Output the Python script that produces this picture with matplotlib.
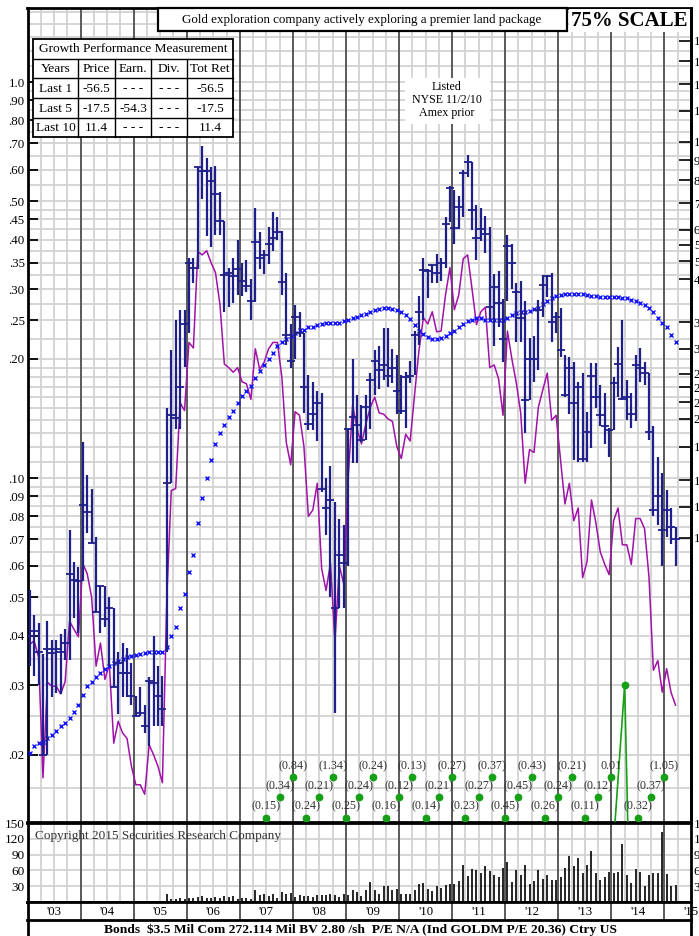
import numpy as np
import matplotlib
matplotlib.use('Agg')
import matplotlib.pyplot as plt
from matplotlib.patches import Rectangle
import matplotlib.transforms as mtransforms
from matplotlib.ticker import FixedLocator, NullLocator

plt.rcParams['font.family'] = ['Liberation Serif', 'DejaVu Serif']

# ---------------- data ----------------
START_YEAR = 2003  # first monthly bar = Jan 2003

high = [0.052, 0.045, 0.043, 0.036, 0.0435, 0.039, 0.039, 0.0403, 0.0415, 0.0737, 0.0612, 0.0597,
        0.123, 0.102, 0.094, 0.071, 0.0535, 0.0535, 0.050, 0.047, 0.0363, 0.0383, 0.0372, 0.0342,
        0.0282, 0.0297, 0.0267, 0.0315, 0.040, 0.0336, 0.0316, 0.15, 0.21, 0.25, 0.266, 0.266,
        0.36, 0.36, 0.61, 0.69, 0.643, 0.61, 0.614, 0.527, 0.446, 0.34, 0.36, 0.40,
        0.35, 0.355, 0.318, 0.48, 0.418, 0.377, 0.43, 0.47, 0.455, 0.42, 0.33, 0.245,
        0.273, 0.263, 0.232, 0.182, 0.175, 0.166, 0.164, 0.10, 0.107, 0.087, 0.079, 0.076,
        0.133, 0.20, 0.162, 0.153, 0.162, 0.184, 0.21, 0.215, 0.239, 0.239, 0.212, 0.205,
        0.182, 0.185, 0.198, 0.235, 0.288, 0.36, 0.337, 0.345, 0.368, 0.36, 0.455, 0.546,
        0.533, 0.515, 0.60, 0.655, 0.628, 0.49, 0.48, 0.46, 0.43, 0.328, 0.333, 0.283,
        0.41, 0.39, 0.31, 0.315, 0.28, 0.226, 0.228, 0.282, 0.325, 0.325, 0.33, 0.262,
        0.269, 0.205, 0.202, 0.196, 0.175, 0.184, 0.147, 0.195, 0.195, 0.172, 0.164, 0.134,
        0.18, 0.214, 0.25, 0.177, 0.164, 0.205, 0.213, 0.196, 0.184, 0.135, 0.113, 0.103,
        0.093, 0.084, 0.075]

low = [0.0335, 0.0316, 0.030, 0.020, 0.020, 0.028, 0.0286, 0.0285, 0.0347, 0.0347, 0.0443, 0.0406,
       0.055, 0.0727, 0.0685, 0.0458, 0.0406, 0.042, 0.0335, 0.0297, 0.0254, 0.028, 0.028, 0.0267,
       0.025, 0.025, 0.0227, 0.021, 0.0236, 0.0236, 0.0236, 0.0363, 0.097, 0.133, 0.133, 0.191,
       0.232, 0.31, 0.337, 0.506, 0.408, 0.383, 0.41, 0.41, 0.262, 0.27, 0.277, 0.29,
       0.288, 0.295, 0.25, 0.278, 0.337, 0.328, 0.347, 0.374, 0.40, 0.29, 0.217, 0.19,
       0.20, 0.227, 0.146, 0.132, 0.132, 0.124, 0.092, 0.072, 0.05, 0.0255, 0.047, 0.047,
       0.06, 0.109, 0.109, 0.123, 0.125, 0.133, 0.162, 0.168, 0.177, 0.17, 0.174, 0.145,
       0.145, 0.134, 0.174, 0.182, 0.217, 0.25, 0.285, 0.31, 0.31, 0.314, 0.34, 0.443,
       0.39, 0.426, 0.455, 0.575, 0.423, 0.355, 0.396, 0.37, 0.25, 0.216, 0.24, 0.196,
       0.28, 0.30, 0.22, 0.22, 0.13, 0.157, 0.175, 0.187, 0.255, 0.287, 0.22, 0.232,
       0.202, 0.16, 0.145, 0.111, 0.11, 0.11, 0.11, 0.119, 0.15, 0.135, 0.122, 0.113,
       0.132, 0.16, 0.157, 0.14, 0.134, 0.139, 0.175, 0.172, 0.125, 0.08, 0.076, 0.06,
       0.071, 0.068, 0.06]

close = [0.040, 0.041, 0.0363, 0.020, 0.037, 0.0362, 0.037, 0.0363, 0.0383, 0.0573, 0.0553, 0.055,
         0.0857, 0.082, 0.0687, 0.0458, 0.0535, 0.044, 0.047, 0.0297, 0.0342, 0.0322, 0.0322, 0.0282,
         0.025, 0.0255, 0.0236, 0.0308, 0.0303, 0.0282, 0.0261, 0.097, 0.144, 0.142, 0.17, 0.245,
         0.35, 0.34, 0.61, 0.596, 0.596, 0.562, 0.52, 0.446, 0.325, 0.33, 0.323, 0.337,
         0.314, 0.305, 0.28, 0.395, 0.36, 0.366, 0.39, 0.404, 0.418, 0.313, 0.23, 0.198,
         0.255, 0.232, 0.17, 0.137, 0.145, 0.155, 0.094, 0.084, 0.088, 0.047, 0.064, 0.061,
         0.133, 0.143, 0.136, 0.125, 0.151, 0.177, 0.198, 0.187, 0.193, 0.181, 0.19, 0.166,
         0.148, 0.18, 0.181, 0.23, 0.263, 0.335, 0.333, 0.345, 0.33, 0.35, 0.438, 0.54,
         0.428, 0.484, 0.59, 0.628, 0.474, 0.404, 0.426, 0.414, 0.27, 0.304, 0.277, 0.224,
         0.385, 0.35, 0.295, 0.254, 0.157, 0.20, 0.20, 0.266, 0.307, 0.324, 0.248, 0.255,
         0.21, 0.162, 0.19, 0.155, 0.17, 0.112, 0.131, 0.181, 0.16, 0.144, 0.135, 0.132,
         0.174, 0.194, 0.158, 0.16, 0.145, 0.193, 0.19, 0.184, 0.131, 0.083, 0.09, 0.074,
         0.083, 0.075, 0.07]

rel_strength = [0.038, 0.0388, 0.0353, 0.0175, 0.0305, 0.0298, 0.0298, 0.0285, 0.0306, 0.0435, 0.0415, 0.0397,
                0.0608, 0.0573, 0.050, 0.0335, 0.0383, 0.031, 0.0338, 0.0214, 0.0243, 0.0227, 0.022, 0.0187,
                0.0168, 0.0168, 0.0159, 0.0212, 0.020, 0.0187, 0.017, 0.05, 0.093, 0.094, 0.155, 0.148,
                0.22, 0.213, 0.373, 0.366, 0.375, 0.35, 0.33, 0.275, 0.194, 0.19, 0.185, 0.19,
                0.175, 0.173, 0.158, 0.212, 0.188, 0.196, 0.212, 0.22, 0.22, 0.18, 0.123, 0.108,
                0.147, 0.144, 0.12, 0.08, 0.083, 0.097, 0.059, 0.052, 0.061, 0.0385, 0.06, 0.054,
                0.10, 0.153, 0.133, 0.122, 0.137, 0.151, 0.16, 0.146, 0.145, 0.141, 0.139, 0.12,
                0.112, 0.129, 0.124, 0.162, 0.21, 0.254, 0.245, 0.263, 0.234, 0.235, 0.29, 0.34,
                0.266, 0.29, 0.358, 0.366, 0.30, 0.244, 0.263, 0.27, 0.19, 0.193, 0.178, 0.144,
                0.235, 0.20, 0.174, 0.146, 0.097, 0.118, 0.116, 0.151, 0.167, 0.184, 0.14, 0.144,
                0.111, 0.086, 0.097, 0.078, 0.084, 0.056, 0.0615, 0.088, 0.077, 0.065, 0.0605, 0.057,
                0.078, 0.084, 0.0678, 0.0678, 0.0605, 0.079, 0.079, 0.0745, 0.0563, 0.0327, 0.0346, 0.0288,
                0.033, 0.0287, 0.0267]

moving_avg = [0.0202, 0.021, 0.0214, 0.0216, 0.0221, 0.0225, 0.023, 0.0236, 0.024, 0.0248, 0.0257, 0.0267,
              0.0283, 0.0298, 0.0306, 0.0315, 0.0322, 0.033, 0.0336, 0.0342, 0.0345, 0.035, 0.0353, 0.0356,
              0.0358, 0.036, 0.0362, 0.0363, 0.0363, 0.0363, 0.0363, 0.0375, 0.040, 0.042, 0.047, 0.051,
              0.058, 0.064, 0.077, 0.089, 0.10, 0.111, 0.122, 0.13, 0.136, 0.143, 0.148, 0.155,
              0.161, 0.166, 0.171, 0.179, 0.186, 0.193, 0.20, 0.207, 0.215, 0.22, 0.224, 0.228,
              0.232, 0.236, 0.237, 0.24, 0.241, 0.243, 0.245, 0.246, 0.247, 0.247, 0.247, 0.249,
              0.251, 0.253, 0.255, 0.258, 0.26, 0.262, 0.265, 0.267, 0.268, 0.268, 0.267, 0.265,
              0.262, 0.258, 0.252, 0.243, 0.235, 0.231, 0.227, 0.225, 0.225, 0.226, 0.228, 0.232,
              0.235, 0.24, 0.245, 0.249, 0.251, 0.253, 0.253, 0.251, 0.25, 0.25, 0.25, 0.251,
              0.254, 0.258, 0.261, 0.262, 0.262, 0.264, 0.267, 0.269, 0.275, 0.28, 0.285, 0.288,
              0.29, 0.292, 0.292, 0.292, 0.292, 0.292, 0.29, 0.288, 0.288, 0.287, 0.287, 0.287,
              0.287, 0.287, 0.285, 0.285, 0.282, 0.28, 0.277, 0.273, 0.268, 0.262, 0.254, 0.246,
              0.24, 0.23, 0.22]

volume = [0.6, 0.5, 0.7, 0.5, 0.6, 0.8, 0.5, 0.6, 0.7, 0.9, 0.8, 0.7,
          1.0, 0.9, 0.8, 0.7, 0.6, 0.8, 0.7, 0.6, 0.5, 0.7, 0.6, 0.5,
          0.6, 0.7, 0.5, 0.8, 0.9, 0.7, 0.8, 14.6, 6.3, 6.3, 7.6, 6.3,
          8.3, 7.6, 9.5, 10.8, 8.3, 7.0, 9.5, 7.0, 12.0, 9.5, 10.8, 6.3,
          7.6, 8.3, 6.3, 22.0, 12.7, 14.6, 10.8, 14.6, 8.3, 19.0, 14.6, 17.0,
          9.5, 14.0, 10.8, 12.0, 9.5, 12.7, 14.0, 12.7, 15.9, 12.7, 9.5, 14.6,
          12.7, 23.5, 19.0, 10.8, 22.0, 38.0, 22.0, 14.6, 30.0, 30.0, 22.0, 25.0,
          14.6, 15.9, 14.6, 22.0, 33.7, 36.8, 25.0, 21.0, 30.5, 26.7, 33.0, 33.7,
          35.0, 40.0, 70.0, 49.0, 62.0, 60.0, 56.0, 69.0, 59.0, 51.0, 47.6, 65.0,
          75.6, 38.0, 61.6, 52.0, 70.0, 34.0, 39.0, 60.0, 44.0, 51.0, 42.5, 42.5,
          47.6, 65.0, 87.0, 68.0, 84.0, 55.0, 70.0, 97.0, 55.0, 42.5, 47.6, 57.0,
          56.0, 56.5, 111.0, 51.0, 36.0, 63.5, 57.0, 30.5, 52.0, 55.0, 56.0, 133.0,
          52.7, 30.5, 33.0]

eps_start = 2007.5   # quarterly earnings points
eps_values = [-0.15, -0.34, -0.84, -0.24, -0.21, -1.34, -0.25, -0.24, -0.24, -0.16, -0.12,
              -0.13, -0.14, -0.21, -0.27, -0.23, -0.27, -0.37, -0.45, -0.45, -0.43, -0.26,
              -0.24, -0.21, -0.11, -0.12, 0.01, 0.03, -0.32, -0.37, -1.05]

price_tick_values = [1.0, 0.9, 0.8, 0.7, 0.6, 0.5, 0.45, 0.4, 0.35, 0.3, 0.25, 0.2,
                     0.1, 0.09, 0.08, 0.07, 0.06, 0.05, 0.04, 0.03, 0.02]
price_tick_labels = ['1.0', '.90', '.80', '.70', '.60', '.50', '.45', '.40', '.35', '.30', '.25', '.20',
                     '.10', '.09', '.08', '.07', '.06', '.05', '.04', '.03', '.02']
rs_tick_values = [180, 160, 140, 120, 100, 90, 80, 70, 60, 55, 50, 45, 35, 30, 26, 24, 22, 20, 17, 14, 12, 10]
vol_tick_values = [30, 60, 90, 120, 150]
year_labels = ["'03", "'04", "'05", "'06", "'07", "'08", "'09", "'10", "'11", "'12", "'13", "'14", "'15"]

table_rows = [['Years', 'Price', 'Earn.', 'Div.', 'Tot Ret'],
              ['Last 1', '-56.5', '- - -', '- - -', '-56.5'],
              ['Last 5', '-17.5', '-54.3', '- - -', '-17.5'],
              ['Last 10', '11.4', '- - -', '- - -', '11.4']]

# ---------------- styling / layout ----------------
W, H = 699, 936
RS_K = 0.00706
grid_levels = [0.0165, 0.02, 0.025, 0.03, 0.035, 0.04, 0.045, 0.05, 0.055, 0.06, 0.065, 0.07, 0.075,
               0.08, 0.085, 0.09, 0.095, 0.10, 0.11, 0.12, 0.13, 0.14, 0.15, 0.16, 0.17, 0.18, 0.19,
               0.20, 0.225, 0.25, 0.275, 0.30, 0.325, 0.35, 0.375, 0.40, 0.425, 0.45, 0.475, 0.50,
               0.55, 0.60, 0.65, 0.70, 0.75, 0.80, 0.85, 0.90, 0.95, 1.0, 1.1, 1.2, 1.3, 1.4, 1.5]

BAR_C = '#1f1f8c'
RS_C = '#a012a8'
MA_C = '#1414ff'
GRID_C = '#d2d2d2'
YEAR_C = '#5a5a5a'
GREEN = '#16a016'

XL, XR = 27.5, 691.0
X0, X1 = 2003.0, 2015.5


def fx(px):
    return px / W


def fy(py):
    return 1 - py / H


fig = plt.figure(figsize=(W / 100, H / 100), dpi=100)
fig.patch.set_facecolor('white')


def box(top, bottom):
    return [fx(XL), fy(bottom), fx(XR) - fx(XL), fy(top) - fy(bottom)]


def draw_vgrid(ax, light=True):
    q = X0
    while q <= X1 + 1e-9:
        if abs(q - round(q)) < 1e-6:
            ax.axvline(q, color=YEAR_C, lw=1.4, zorder=1)
        elif light:
            ax.axvline(q, color=GRID_C, lw=1.3, zorder=0)
        q += 0.25


n = len(close)
t = START_YEAR + (np.arange(n) + 0.5) / 12.0

# ---------------- price panel ----------------
ax = fig.add_axes(box(8, 822))
ax.set_yscale('log')
ax.set_xlim(X0, X1)
ax.set_ylim(0.01353, 1.538)
for g in grid_levels:
    ax.axhline(g, color=GRID_C, lw=1.3, zorder=0)
draw_vgrid(ax)

ax.vlines(t, low, high, color=BAR_C, lw=1.6, zorder=4)
ax.plot(t, close, ls='none', marker='_', ms=5.5, mew=1.3, color=BAR_C, zorder=5)
ax.plot(t, rel_strength, color=RS_C, lw=1.1, zorder=3)
ax.plot(t, moving_avg, ls='none', marker='x', ms=3.0, mew=1.0, color=MA_C, zorder=3)

# earnings
eps_x = eps_start + 0.25 * np.arange(len(eps_values))
eps_line = [v if v > 0 else 0.001 for v in eps_values]
ax.plot(eps_x, eps_line, color=GREEN, lw=1.2, zorder=3)
blend = mtransforms.blended_transform_factory(ax.transData, ax.transAxes)
row_dot = [(822 - 818) / 814, (822 - 797) / 814, (822 - 777) / 814]
row_lab = [(822 - 806) / 814, (822 - 786) / 814, (822 - 766) / 814]
j = 0
for xv, v in zip(eps_x, eps_values):
    if v < 0.0136:
        r = j % 3
        txt = '(%.2f)' % abs(v) if v < 0 else '%.2f' % v
        ax.plot([xv], [row_dot[r]], 'o', ms=4.6, color=GREEN, transform=blend, clip_on=False, zorder=6)
        ax.text(xv, row_lab[r], txt, transform=blend, ha='center', va='center',
                fontsize=8.7, color='#333333', zorder=6)
        j += 1
    else:
        ax.plot([xv], [v], 'o', ms=4.6, color=GREEN, zorder=6)

ax.yaxis.set_major_locator(FixedLocator(price_tick_values))
ax.yaxis.set_minor_locator(NullLocator())
ax.set_yticklabels(price_tick_labels)
ax.tick_params(axis='y', which='major', direction='in', length=7, width=1.3, pad=2,
               labelsize=9.3, left=True, right=False)
ax.set_xticks([])
for s in ax.spines.values():
    s.set_linewidth(2.0)

sec = ax.secondary_yaxis('right', functions=(lambda p: p / RS_K, lambda v: v * RS_K))
sec.set_yticks(rs_tick_values)
sec.set_yticklabels([str(v) for v in rs_tick_values])
sec.yaxis.set_minor_locator(NullLocator())
sec.tick_params(axis='y', direction='in', length=9, width=1.2, pad=2, labelsize=9.3)
sec.spines['right'].set_linewidth(2.0)

# ---------------- volume panel ----------------
av = fig.add_axes(box(823, 902))
av.set_xlim(X0, X1)
av.set_ylim(0, 150)
for g in vol_tick_values[:-1]:
    av.axhline(g, color=GRID_C, lw=1.3, zorder=0)
draw_vgrid(av)
av.vlines(t, 0, volume, color='black', lw=1.2, zorder=3)
av.set_yticks(vol_tick_values)
av.tick_params(axis='y', direction='in', length=0, pad=2, labelsize=9.5,
               left=True, right=True, labelleft=True, labelright=True)
av.set_xticks([])
for s in av.spines.values():
    s.set_linewidth(2.0)
av.text(0.012, 0.83, 'Copyright 2015 Securities Research Company', transform=av.transAxes,
        ha='left', va='center', fontsize=9.5, color='#333333')

# ---------------- year label band ----------------
al = fig.add_axes(box(902, 920))
al.set_xlim(X0, X1)
al.set_ylim(0, 1)
draw_vgrid(al, light=False)
for i, lab in enumerate(year_labels):
    xc = X0 + i + 0.5
    if xc > X1:
        xc = X1 - 0.04
    al.text(xc, 0.45, lab, ha='center', va='center', fontsize=9.2)
al.set_xticks([])
al.set_yticks([])
for s in al.spines.values():
    s.set_linewidth(2.0)

# ---------------- overlay (boxes, texts) ----------------
ov = fig.add_axes([0, 0, 1, 1])
ov.set_xlim(0, W)
ov.set_ylim(H, 0)
ov.axis('off')
ov.patch.set_alpha(0)

ov.add_patch(Rectangle((158, 8), 409, 23, fc='white', ec='black', lw=1.6))
ov.text(362, 20, 'Gold exploration company actively exploring a premier land package',
        ha='center', va='center', fontsize=9.4)
ov.add_patch(Rectangle((568.5, 9), 121.5, 23, fc='white', ec='none'))
ov.text(629, 21, '75% SCALE', ha='center', va='center', fontsize=15, fontweight='bold')

# performance table
tx0, tx1 = 33, 233
ty = [39, 59, 78, 98, 118, 137]
cx = [33, 78, 115, 151, 187, 233]
ov.add_patch(Rectangle((tx0, ty[0]), tx1 - tx0, ty[-1] - ty[0], fc='white', ec='black', lw=1.3))
for yy in ty[1:-1]:
    ov.plot([tx0, tx1], [yy, yy], color='black', lw=1.0)
for xx in cx[1:-1]:
    ov.plot([xx, xx], [ty[1], ty[-1]], color='black', lw=1.0)
ov.text((tx0 + tx1) / 2, (ty[0] + ty[1]) / 2 + 0.5, 'Growth Performance Measurement',
        ha='center', va='center', fontsize=9.6)
for r, row in enumerate(table_rows):
    for c, val in enumerate(row):
        ov.text((cx[c] + cx[c + 1]) / 2, (ty[r + 1] + ty[r + 2]) / 2 + 0.5, val,
                ha='center', va='center', fontsize=9.6)

# listed note
ov.add_patch(Rectangle((405, 78), 85, 46, fc='white', ec='none'))
for yy, s in zip([87, 100, 113], ['Listed', 'NYSE 11/2/10', 'Amex prior']):
    ov.text(447, yy, s, ha='center', va='center', fontsize=8.6)

# bottom info band
ov.plot([XL, XL], [920, 936], color='black', lw=2.0)
ov.plot([XR, XR], [920, 936], color='black', lw=2.0)
ov.text(360, 929.5, 'Bonds  $3.5 Mil Com 272.114 Mil BV 2.80 /sh  P/E N/A (Ind GOLDM P/E 20.36) Ctry US',
        ha='center', va='center', fontsize=9.7, fontweight='bold')

fig.savefig('out.png', dpi=100)
